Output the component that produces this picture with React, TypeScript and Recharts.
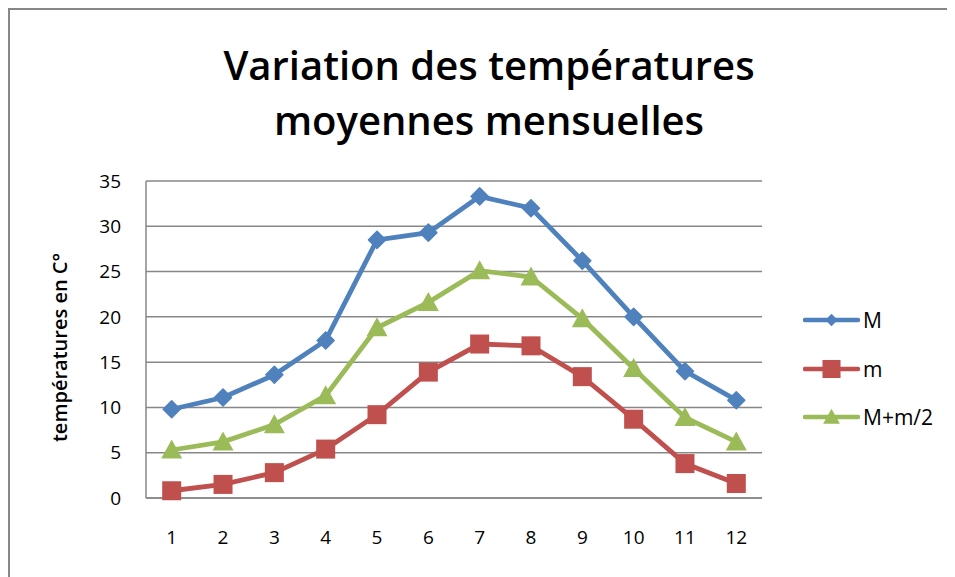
import React from 'react';
import { LineChart, Line, XAxis, YAxis, CartesianGrid, Legend } from 'recharts';

const months = ['1', '2', '3', '4', '5', '6', '7', '8', '9', '10', '11', '12'];
const maxTemps = [9.8, 11.1, 13.6, 17.4, 28.5, 29.3, 33.3, 32.0, 26.2, 20.0, 14.0, 10.8];
const minTemps = [0.8, 1.5, 2.8, 5.4, 9.2, 13.9, 17.0, 16.8, 13.4, 8.7, 3.8, 1.6];
const avgTemps = [5.3, 6.2, 8.1, 11.3, 18.8, 21.6, 25.1, 24.4, 19.8, 14.3, 8.9, 6.2];
const yTicks = [0, 5, 10, 15, 20, 25, 30, 35];
const seriesNames = ['M', 'm', 'M+m/2'];
const titleLines = ['Variation des températures', 'moyennes mensuelles'];
const yLabel = 'températures en C°';

const BLUE = '#4F81BD';
const RED = '#C0504D';
const GREEN = '#9BBB59';
const GRID = '#878787';
const FONT = '"Open Sans", Lato, sans-serif';

const data = months.map((mo, i) => ({
  month: mo,
  M: maxTemps[i],
  m: minTemps[i],
  avg: avgTemps[i],
}));

type Shape = 'diamond' | 'square' | 'triangle';

const series: { key: string; name: string; color: string; shape: Shape }[] = [
  { key: 'M', name: seriesNames[0], color: BLUE, shape: 'diamond' },
  { key: 'm', name: seriesNames[1], color: RED, shape: 'square' },
  { key: 'avg', name: seriesNames[2], color: GREEN, shape: 'triangle' },
];

function marker(shape: Shape, cx: number, cy: number, color: string, scale = 1, key?: string) {
  if (shape === 'diamond') {
    const r = 8.5 * scale;
    return (
      <polygon
        key={key}
        points={`${cx},${cy - r} ${cx + r},${cy} ${cx},${cy + r} ${cx - r},${cy}`}
        fill={color}
        stroke={color}
        strokeWidth={1.5}
        strokeLinejoin="round"
      />
    );
  }
  if (shape === 'square') {
    const s = 19 * scale;
    return <rect key={key} x={cx - s / 2} y={cy - s / 2} width={s} height={s} fill={color} />;
  }
  const w = 21 * scale;
  const h = 19 * scale;
  return (
    <polygon
      key={key}
      points={`${cx},${cy - h * 0.55} ${cx + w / 2},${cy + h * 0.45} ${cx - w / 2},${cy + h * 0.45}`}
      fill={color}
    />
  );
}

const makeDot = (shape: Shape, color: string) => (p: any) => {
  if (p.cx == null || p.cy == null) return <g key={`e-${shape}-${p.index}`} />;
  return marker(shape, p.cx, p.cy, color, 1, `${shape}-${p.index}`);
};

const renderLegend = () => (
  <div style={{ fontFamily: FONT }}>
    {series.map((s) => (
      <div key={s.key} style={{ display: 'flex', alignItems: 'center', height: 48.5 }}>
        <svg width={58} height={24} style={{ display: 'block' }}>
          <line x1={2} y1={12} x2={55} y2={12} stroke={s.color} strokeWidth={4.5} strokeLinecap="round" />
          {marker(s.shape, 28.5, 12, s.color, s.shape === 'diamond' ? 0.6 : s.shape === 'square' ? 0.95 : 0.8)}
        </svg>
        <span style={{ marginLeft: 2, fontSize: 21, color: '#000', lineHeight: '24px' }}>{s.name}</span>
      </div>
    ))}
  </div>
);

export default function App() {
  return (
    <div
      style={{
        position: 'relative',
        width: 944,
        height: 567,
        borderLeft: `3px solid ${GRID}`,
        borderTop: `2px solid ${GRID}`,
        background: '#fff',
        marginLeft: -1,
        overflow: 'hidden',
      }}
    >
      <div
        style={{
          position: 'absolute',
          left: 0,
          top: 27,
          width: 958,
          textAlign: 'center',
          fontFamily: FONT,
          fontWeight: 600,
          fontSize: 40,
          lineHeight: '55px',
          color: '#000',
          zIndex: 2,
        }}
      >
        {titleLines.map((t) => (
          <div key={t}>{t}</div>
        ))}
      </div>
      <LineChart
        width={944}
        height={567}
        data={data}
        margin={{ top: 171, right: 192, bottom: 29, left: 56 }}
      >
        <CartesianGrid horizontal vertical={false} stroke={GRID} strokeWidth={1.5} />
        <XAxis
          dataKey="month"
          axisLine={{ stroke: GRID, strokeWidth: 1.5 }}
          tickLine={false}
          tickSize={0}
          tickMargin={33}
          height={50}
          interval={0}
          padding={{ left: 25.7, right: 25.7 }}
          tick={{ fontFamily: FONT, fontSize: 19, fill: '#000' }}
        />
        <YAxis
          domain={[0, 35]}
          ticks={yTicks}
          width={80}
          axisLine={{ stroke: GRID, strokeWidth: 1.5 }}
          tickLine={false}
          tickSize={0}
          tickMargin={25}
          interval={0}
          tick={{ fontFamily: FONT, fontSize: 19, fill: '#000' }}
          label={{
            value: yLabel,
            angle: -90,
            position: 'insideLeft',
            offset: 0,
            dx: -6,
            dy: 8,
            style: { fontFamily: FONT, fontSize: 20, fontWeight: 600, fill: '#000', textAnchor: 'middle' },
          }}
        />
        {series.map((s) => (
          <Line
            key={s.key}
            type="linear"
            dataKey={s.key}
            name={s.name}
            stroke={s.color}
            strokeWidth={4.8}
            dot={makeDot(s.shape, s.color)}
            activeDot={false}
            isAnimationActive={false}
          />
        ))}
        <Legend
          layout="vertical"
          align="center"
          verticalAlign="middle"
          content={renderLegend}
          wrapperStyle={{ left: 793, top: 286, width: 150, height: 150 }}
        />
      </LineChart>
    </div>
  );
}
